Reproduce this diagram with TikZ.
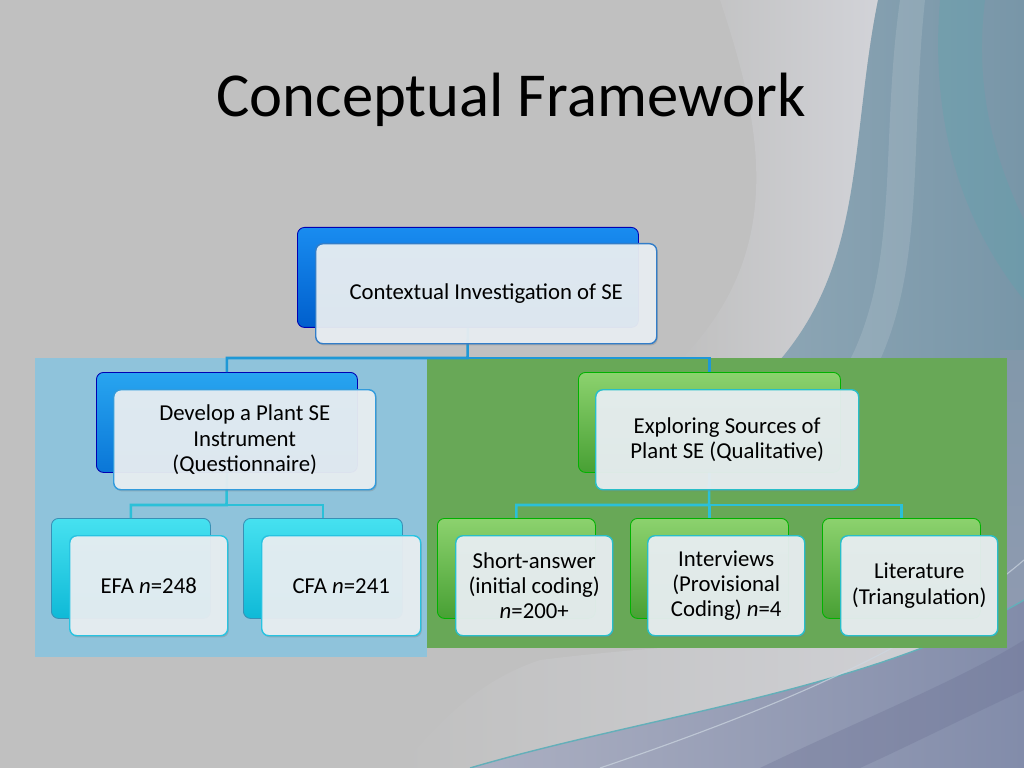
\documentclass[tikz,border=0pt]{standalone}
\usepackage{fontspec}
\setmainfont{Carlito}
\usetikzlibrary{shadows,calc}
\definecolor{bggray}{HTML}{C0C0C0}
\definecolor{bglight}{HTML}{D2D3D8}
\definecolor{panelblue}{HTML}{8FC3DB}
\definecolor{panelgreen}{HTML}{68A857}
\definecolor{frontfill}{HTML}{EAF0F4}
\definecolor{connblue}{HTML}{1E98D6}
\definecolor{conncyan}{HTML}{2BC0D8}
\definecolor{swA}{RGB}{140,165,180}
\definecolor{swB}{RGB}{120,150,168}
\definecolor{swTeal}{RGB}{90,165,175}
\definecolor{swSide1}{RGB}{130,152,170}
\definecolor{swSide2}{RGB}{145,155,178}
\definecolor{swBot1}{RGB}{172,176,194}
\definecolor{swBot2}{RGB}{130,140,170}
\definecolor{swDark}{RGB}{105,110,145}
\definecolor{swLine}{RGB}{100,175,185}
\definecolor{swLight}{RGB}{205,215,225}
\definecolor{topT}{RGB}{25,140,240}
\definecolor{topB}{RGB}{0,95,205}
\definecolor{blT}{RGB}{40,165,240}
\definecolor{blB}{RGB}{10,118,215}
\definecolor{grT}{RGB}{140,210,110}
\definecolor{grB}{RGB}{72,160,52}
\definecolor{cyT}{RGB}{70,225,240}
\definecolor{cyB}{RGB}{15,185,215}
\definecolor{bdTop}{RGB}{50,125,200}
\definecolor{bdBl}{RGB}{50,155,220}
\definecolor{bdGr}{RGB}{40,190,200}
\definecolor{bdCy}{RGB}{40,195,225}
\tikzset{
  base/.style={rounded corners=5pt, anchor=north west, minimum height={100*0.703125pt}, inner sep=0pt},
  backbox/.style={base, draw=#1!70!black, line width=0.6pt},
  frontbox/.style={base, fill=frontfill, fill opacity=0.93, text opacity=1, draw=#1, line width=1pt,
     drop shadow={opacity=0.35, shadow xshift=0.8pt, shadow yshift=-1.2pt},
     align=center, font=\fontsize{16}{17.8}\selectfont},
  conn/.style={line width=1.8pt, draw=#1},
  bw/.style={minimum width={#1*0.703125pt}},
}
\begin{document}
\begin{tikzpicture}[x=0.703125pt, y=-0.703125pt]
\useasboundingbox (0,0) rectangle (1024,768);
% background
\fill[bggray] (0,0) rectangle (1024,768);
\shade[left color=bggray, right color=bglight] (720,0) .. controls (760,120) and (790,250) .. (680,360) -- (880,360) .. controls (860,250) and (850,140) .. (878,0) -- cycle;
\shade[left color=swA, right color=swB]
  (878,0) .. controls (850,140) and (865,260) .. (780,360) -- (1024,360) -- (1024,0) -- cycle;
\fill[swTeal, opacity=0.3] (940,0) .. controls (930,120) and (960,220) .. (1024,300) -- (1024,220) .. controls (990,150) and (975,80) .. (985,0) -- cycle;
\fill[white, opacity=0.12] (900,0) .. controls (880,140) and (900,260) .. (850,360) -- (880,360) .. controls (925,260) and (910,140) .. (925,0) -- cycle;
\shade[top color=swSide1, bottom color=swSide2] (1000,350) rectangle (1024,660);
\shade[left color=bggray, right color=bglight] (540,660) .. controls (700,640) and (850,640) .. (1024,620) -- (1024,640) .. controls (880,700) and (700,720) .. (480,768) -- (400,768) .. controls (440,720) and (480,680) .. (540,660) -- cycle;
\shade[left color=swBot1, right color=swBot2]
  (470,768) .. controls (650,715) and (870,690) .. (1024,600) -- (1024,768) -- cycle;
\fill[swDark, opacity=0.3] (760,768) .. controls (860,720) and (960,680) .. (1024,640) -- (1024,690) .. controls (960,720) and (900,750) .. (860,768) -- cycle;
\draw[swLine, line width=1pt] (470,768) .. controls (650,715) and (870,690) .. (1024,600);
\draw[swLight, line width=0.8pt, opacity=0.7] (600,768) .. controls (800,700) and (930,640) .. (1024,560);
% title
\node[font=\fontsize{44}{52}\selectfont, anchor=base] (title) at (511,117) {Conceptual Framework};
% panels
\fill[panelblue] (35,358) rectangle (427,657);
\fill[panelgreen] (427,358) rectangle (1007,648);
% back boxes
\node[backbox=blue, bw=341, top color=topT, bottom color=topB] (topb) at (297,227) {};
\node[backbox=blue, bw=261, top color=blT, bottom color=blB] (l2lb) at (96,372) {};
\node[backbox=green, bw=262, top color=grT, bottom color=grB] (l2rb) at (578,372) {};
\node[backbox=cyan, bw=159, top color=cyT, bottom color=cyB] (efab) at (51,518) {};
\node[backbox=cyan, bw=159, top color=cyT, bottom color=cyB] (cfab) at (243,518) {};
\node[backbox=green, bw=158, top color=grT, bottom color=grB] (sab) at (437,518) {};
\node[backbox=green, bw=158, top color=grT, bottom color=grB] (intb) at (630,518) {};
\node[backbox=green, bw=158, top color=grT, bottom color=grB] (litb) at (822,518) {};
% connectors
\coordinate (j1) at (467.5,358);
\coordinate (j2) at (226.5,505);
\coordinate (j3) at (709,505);
\draw[conn=connblue] (topb.south) -- (j1) -| (l2lb.north);
\draw[conn=connblue] (j1) -| (l2rb.north);
\draw[conn=conncyan] (l2lb.south) -- (j2) -| (efab.north);
\draw[conn=conncyan] (j2) -| (cfab.north);
\draw[conn=conncyan] (l2rb.south) -- (j3) -| (sab.north);
\draw[conn=conncyan] (j3) -| (intb.north);
\draw[conn=conncyan] (j3) -| (litb.north);
% front boxes
\node[frontbox=bdTop, bw=341] (top) at (315,243) {Contextual Investigation of SE};
\node[frontbox=bdBl, bw=262] (l2l) at (113,389) {Develop a Plant SE\\Instrument\\(Questionnaire)};
\node[frontbox=bdGr, bw=263] (l2r) at (595,389) {Exploring Sources of\\Plant SE (Qualitative)};
\node[frontbox=bdCy, bw=158] (efa) at (69,535) {EFA \textit{n}=248};
\node[frontbox=bdCy, bw=159] (cfa) at (261,535) {CFA \textit{n}=241};
\node[frontbox=bdGr, bw=157] (sa) at (455,535) {Short-answer\\(initial coding)\\\textit{n}=200+};
\node[frontbox=bdGr, bw=157] (int) at (647,535) {Interviews\\(Provisional\\Coding) \textit{n}=4};
\node[frontbox=bdGr, bw=157] (lit) at (840,535) {Literature\\(Triangulation)};
\end{tikzpicture}
\end{document}
